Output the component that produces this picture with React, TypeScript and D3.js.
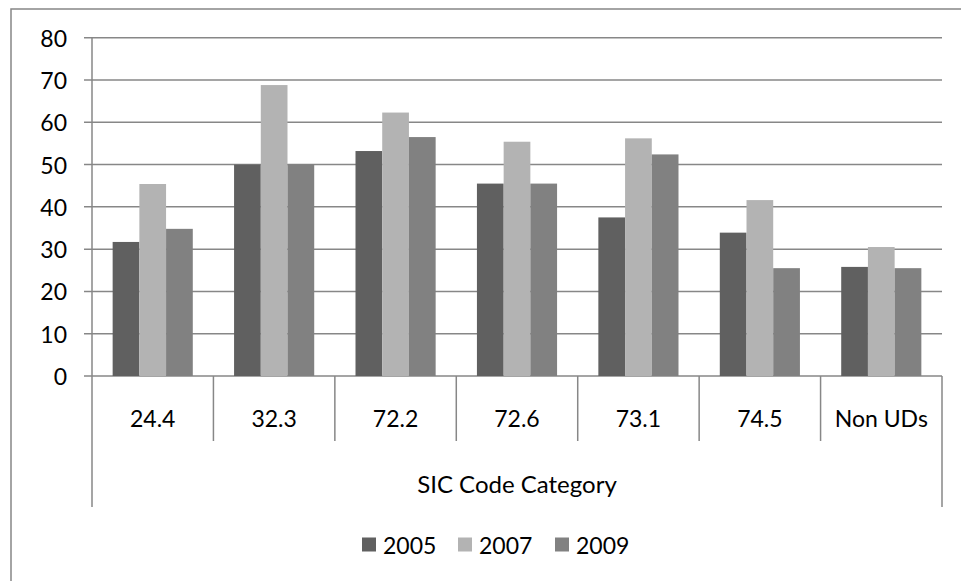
import React from "react";
import * as d3 from "d3";

const categories = ["24.4", "32.3", "72.2", "72.6", "73.1", "74.5", "Non UDs"];
const seriesNames = ["2005", "2007", "2009"];
const values2005 = [31.7, 50.0, 53.2, 45.5, 37.5, 33.9, 25.8];
const values2007 = [45.4, 68.8, 62.3, 55.4, 56.2, 41.6, 30.5];
const values2009 = [34.8, 50.0, 56.5, 45.5, 52.4, 25.5, 25.5];
const yTicks = [0, 10, 20, 30, 40, 50, 60, 70, 80];
const axisTitle = "SIC Code Category";
const colors = ["#606060", "#b3b3b3", "#818181"];

const W = 961;
const H = 581;
const FONT = "Lato, 'Open Sans', sans-serif";
const GRID = "#878787";

export default function App() {
  const x0 = 92, x1 = 942, yTop = 37.7, yBot = 376;
  const y = d3.scaleLinear().domain([0, 80]).range([yBot, yTop]);
  const band = d3.scaleBand<string>().domain(categories).range([x0, x1]).paddingInner(0).paddingOuter(0);
  const bw = band.bandwidth();
  const groupW = bw * 0.66;
  const inner = d3.scaleBand<string>().domain(seriesNames).range([0, groupW]).padding(0);
  const series = [values2005, values2007, values2009];
  const fs = 23;

  const legendItems = seriesNames.map((n, i) => ({ n, c: colors[i] }));
  const legendX = [362, 458, 555];

  return (
    <svg width={W} height={H} style={{ position: "absolute", left: 0, top: 0, background: "#fff" }}>
      <rect x={11} y={9} width={W + 20} height={H + 20} fill="#fff" stroke={GRID} strokeWidth={1.5} />
      {yTicks.map((t) => (
        <g key={t}>
          <line x1={84} x2={x1} y1={y(t)} y2={y(t)} stroke={GRID} strokeWidth={1.5} />
          <text x={67} y={y(t)} textAnchor="end" dominantBaseline="central" fontFamily={FONT} fontSize={fs} fill="#000">
            {t}
          </text>
        </g>
      ))}
      <line x1={x0} x2={x0} y1={yTop} y2={yBot} stroke={GRID} strokeWidth={1.5} />
      {categories.map((c, ci) => (
        <g key={c}>
          {series.map((vals, si) => (
            <rect
              key={si}
              x={(band(c) as number) + (bw - groupW) / 2 + (inner(seriesNames[si]) as number)}
              y={y(vals[ci])}
              width={inner.bandwidth()}
              height={yBot - y(vals[ci])}
              fill={colors[si]}
            />
          ))}
          <text
            x={(band(c) as number) + bw / 2}
            y={418}
            textAnchor="middle"
            dominantBaseline="central"
            fontFamily={FONT}
            fontSize={fs}
            fill="#000"
          >
            {c}
          </text>
        </g>
      ))}
      {d3.range(categories.length + 1).map((i) => {
        const xx = x0 + i * bw;
        const outer = i === 0 || i === categories.length;
        return <line key={i} x1={xx} x2={xx} y1={yBot} y2={outer ? 507 : 441} stroke={GRID} strokeWidth={1.5} />;
      })}
      <text x={(x0 + x1) / 2} y={483} textAnchor="middle" dominantBaseline="central" fontFamily={FONT} fontSize={fs + 1} fill="#000">
        {axisTitle}
      </text>
      {legendItems.map((it, i) => (
        <g key={it.n}>
          <rect x={legendX[i]} y={537.5} width={14} height={14} fill={it.c} />
          <text x={legendX[i] + 21} y={544.5} dominantBaseline="central" fontFamily={FONT} fontSize={fs} fill="#000">
            {it.n}
          </text>
        </g>
      ))}
    </svg>
  );
}
